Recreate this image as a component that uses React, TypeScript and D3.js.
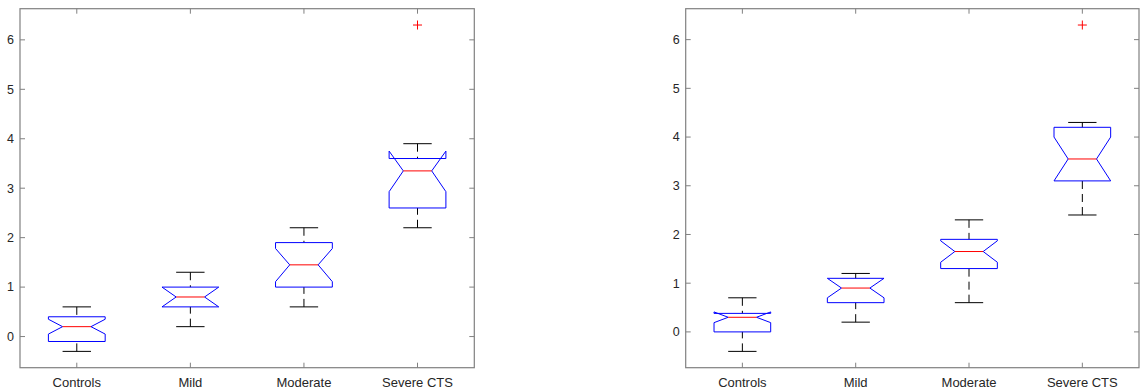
import React from "react";
import * as d3 from "d3";

const categories = ["Controls", "Mild", "Moderate", "Severe CTS"];
const yTicks = [0, 1, 2, 3, 4, 5, 6];

// Left panel statistics
const leftLowerWhisker = [-0.3, 0.2, 0.6, 2.2];
const leftQ1 = [-0.1, 0.6, 1.0, 2.6];
const leftNotchLo = [0.05, 0.6, 1.11, 2.93];
const leftMedian = [0.2, 0.8, 1.45, 3.35];
const leftNotchHi = [0.35, 1.0, 1.78, 3.75];
const leftQ3 = [0.4, 1.0, 1.9, 3.6];
const leftUpperWhisker = [0.6, 1.3, 2.2, 3.9];
const leftOutliers = [[], [], [], [6.3]];

// Right panel statistics
const rightLowerWhisker = [-0.4, 0.2, 0.6, 2.4];
const rightQ1 = [0.0, 0.6, 1.3, 3.1];
const rightNotchLo = [0.19, 0.7, 1.43, 3.1];
const rightMedian = [0.3, 0.9, 1.65, 3.55];
const rightNotchHi = [0.41, 1.1, 1.87, 4.0];
const rightQ3 = [0.38, 1.1, 1.9, 4.2];
const rightUpperWhisker = [0.7, 1.2, 2.3, 4.3];
const rightOutliers = [[], [], [], [6.3]];

type Stats = {
  lw: number[];
  q1: number[];
  nlo: number[];
  med: number[];
  nhi: number[];
  q3: number[];
  uw: number[];
  out: number[][];
};

const leftStats: Stats = {
  lw: leftLowerWhisker, q1: leftQ1, nlo: leftNotchLo, med: leftMedian,
  nhi: leftNotchHi, q3: leftQ3, uw: leftUpperWhisker, out: leftOutliers,
};
const rightStats: Stats = {
  lw: rightLowerWhisker, q1: rightQ1, nlo: rightNotchLo, med: rightMedian,
  nhi: rightNotchHi, q3: rightQ3, uw: rightUpperWhisker, out: rightOutliers,
};

const FONT = "'Liberation Sans', Arial, Helvetica, sans-serif";
const AXIS = "#808080";
const TEXT = "#262626";

function Panel({ stats, x0, x1, y0, y1 }: { stats: Stats; x0: number; x1: number; y0: number; y1: number }) {
  const allVals = [...stats.lw, ...stats.uw, ...stats.out.flat()];
  const lo = d3.min(allVals) as number;
  const hi = d3.max(allVals) as number;
  const pad = (hi - lo) * 0.05;
  const y = d3.scaleLinear().domain([lo - pad, hi + pad]).range([y1, y0]);
  const x = d3.scaleLinear().domain([0.5, categories.length + 0.5]).range([x0, x1]);
  const bw = x(1.25) - x(1); // half box width
  const nw = bw / 2; // notch half width
  const cw = bw / 2; // cap half width
  const line = d3.line<[number, number]>();

  return (
    <g>
      {categories.map((c, i) => {
        const cx = x(i + 1);
        const pts: [number, number][] = [
          [cx - bw, y(stats.q1[i])],
          [cx - bw, y(stats.nlo[i])],
          [cx - nw, y(stats.med[i])],
          [cx - bw, y(stats.nhi[i])],
          [cx - bw, y(stats.q3[i])],
          [cx + bw, y(stats.q3[i])],
          [cx + bw, y(stats.nhi[i])],
          [cx + nw, y(stats.med[i])],
          [cx + bw, y(stats.nlo[i])],
          [cx + bw, y(stats.q1[i])],
          [cx - bw, y(stats.q1[i])],
        ];
        return (
          <g key={c}>
            <line x1={cx} x2={cx} y1={y(stats.uw[i])} y2={y(stats.q3[i])} stroke="#000" strokeDasharray="8,5" strokeWidth={1} />
            <line x1={cx} x2={cx} y1={y(stats.lw[i])} y2={y(stats.q1[i])} stroke="#000" strokeDasharray="8,5" strokeWidth={1} />
            <line x1={cx - cw} x2={cx + cw} y1={y(stats.uw[i])} y2={y(stats.uw[i])} stroke="#000" strokeWidth={1} />
            <line x1={cx - cw} x2={cx + cw} y1={y(stats.lw[i])} y2={y(stats.lw[i])} stroke="#000" strokeWidth={1} />
            <path d={line(pts) as string} fill="none" stroke="#0000ff" strokeWidth={1} />
            <line x1={cx - nw} x2={cx + nw} y1={y(stats.med[i])} y2={y(stats.med[i])} stroke="#ff0000" strokeWidth={1} />
            {stats.out[i].map((v, k) => (
              <g key={k} stroke="#ff0000" strokeWidth={1}>
                <line x1={cx - 4.5} x2={cx + 4.5} y1={y(v)} y2={y(v)} />
                <line x1={cx} x2={cx} y1={y(v) - 4.5} y2={y(v) + 4.5} />
              </g>
            ))}
          </g>
        );
      })}
      {/* axes box */}
      <rect x={x0} y={y0} width={x1 - x0} height={y1 - y0} fill="none" stroke={AXIS} strokeWidth={1.2} />
      {yTicks.map((t) => (
        <g key={t}>
          <line x1={x0} x2={x0 + 5} y1={y(t)} y2={y(t)} stroke={AXIS} />
          <line x1={x1 - 5} x2={x1} y1={y(t)} y2={y(t)} stroke={AXIS} />
          <text x={x0 - 6} y={y(t)} dy="0.35em" textAnchor="end" fontFamily={FONT} fontSize={12.5} fill={TEXT}>
            {t}
          </text>
        </g>
      ))}
      {categories.map((c, i) => (
        <g key={c}>
          <line x1={x(i + 1)} x2={x(i + 1)} y1={y1} y2={y1 - 5} stroke={AXIS} />
          <line x1={x(i + 1)} x2={x(i + 1)} y1={y0} y2={y0 + 5} stroke={AXIS} />
          <text x={x(i + 1)} y={387} textAnchor="middle" fontFamily={FONT} fontSize={13} fill={TEXT}>
            {c}
          </text>
        </g>
      ))}
    </g>
  );
}

export default function App() {
  return (
    <svg
      width={1143}
      height={391}
      style={{ position: "absolute", left: 0, top: 0, background: "#fff" }}
    >
      <rect width={1143} height={391} fill="#fff" />
      <Panel stats={leftStats} x0={20} x1={474.3} y0={8.7} y1={367.7} />
      <Panel stats={rightStats} x0={685.7} x1={1139} y0={8.7} y1={367.7} />
    </svg>
  );
}
